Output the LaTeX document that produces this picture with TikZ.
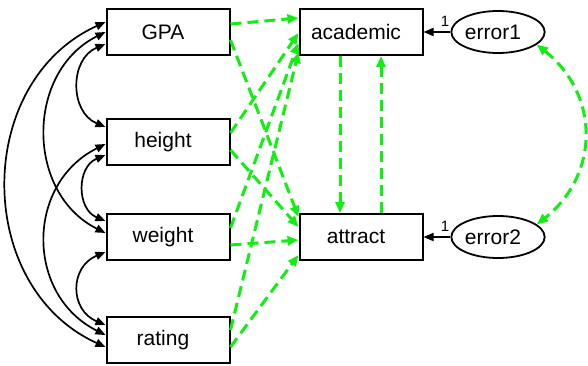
\documentclass[tikz,border=0pt]{standalone}
\usepackage{fontspec}
\setmainfont{Liberation Sans}
\usetikzlibrary{arrows.meta,shapes.geometric}
\definecolor{pathgreen}{HTML}{11EE11}
\tikzset{
  var/.style={draw,line width=2pt,minimum width=123pt,minimum height=46pt,inner sep=0pt,
    execute at end node={\hspace*{10pt}}},
  err/.style={draw,ellipse,line width=1.8pt,minimum width=82pt,minimum height=42pt,inner sep=0pt,
    execute at end node={\hspace*{10pt}}},
  cov/.style={line width=1.7pt,{Triangle[length=10pt,width=8pt]}-{Triangle[length=10pt,width=8pt]}},
  regpath/.style={pathgreen,line width=3pt,dash pattern=on 11pt off 6pt,-{Triangle[length=11pt,width=9pt]}},
  fixpath/.style={line width=1.8pt,-{Triangle[length=10pt,width=8pt]}},
  fixlabel/.style={font=\fontsize{15pt}{17pt}\selectfont,inner sep=0pt,above=5pt}
}

\begin{document}
\begin{tikzpicture}[x=1pt,y=1pt,font=\fontsize{21pt}{25pt}\selectfont]
        \useasboundingbox (0,0) rectangle (588,365);
        \node[var] (gpa) at (168,333) {GPA};
        \node[var] (height) at (168,223) {height};
        \node[var] (weight) at (168,128) {weight};
        \node[var] (rating) at (168,25) {rating};
        \node[var] (academic) at (361,333) {academic};
        \node[var] (attract) at (361,128) {attract};
        \node[err] (error1) at (498,333) {error1};
        \node[err] (error2) at (498,128) {error2};
        \draw[cov] ([yshift=-12pt]gpa.west) .. controls +(-36,-15) and +(-36,15) .. ([yshift=15pt]height.west);
        \draw[cov] ([yshift=0pt]gpa.west) .. controls +(-80,-40) and +(-80,40) .. ([yshift=4pt]weight.west);
        \draw[cov] ([yshift=10pt]gpa.west) .. controls +(-132,-60) and +(-132,60) .. ([yshift=-7pt]rating.west);
        \draw[cov] ([yshift=-13pt]height.west) .. controls +(-29,-12) and +(-29,12) .. ([yshift=16pt]weight.west);
        \draw[cov] ([yshift=-2pt]height.west) .. controls +(-80,-40) and +(-80,40) .. ([yshift=5pt]rating.west);
        \draw[cov] ([yshift=-15pt]weight.west) .. controls +(-36,-15) and +(-36,15) .. ([yshift=15pt]rating.west);
        \draw[regpath] ([yshift=8pt]gpa.east) -- ([yshift=14pt]academic.west);
        \draw[regpath] ([yshift=-8pt]gpa.east) -- ([yshift=20pt]attract.west);
        \draw[regpath] ([yshift=9pt]height.east) -- ([yshift=-1pt]academic.west);
        \draw[regpath] ([yshift=-8pt]height.east) -- ([yshift=10pt]attract.west);
        \draw[regpath] ([yshift=9pt]weight.east) -- ([yshift=-11pt]academic.west);
        \draw[regpath] ([yshift=-8pt]weight.east) -- ([yshift=-3pt]attract.west);
        \draw[regpath] ([yshift=10pt]rating.east) -- ([yshift=-20pt]academic.west);
        \draw[regpath] ([yshift=-7pt]rating.east) -- ([yshift=-18pt]attract.west);
        \draw[regpath] ([xshift=-21pt]academic.south) -- ([xshift=-21pt]attract.north);
        \draw[regpath] ([xshift=20pt]attract.north) -- ([xshift=20pt]academic.south);
        \draw[fixpath] (error1) -- node[pos=0.2,fixlabel] {1} (academic);
        \draw[fixpath] (error2) -- node[pos=0.2,fixlabel] {1} (attract);
        \draw[regpath,{Triangle[length=11pt,width=9pt]}-{Triangle[length=11pt,width=9pt]}] (error1.-18) .. controls +(63,-50) and +(63,50) .. (error2.18);
      \end{tikzpicture}
\end{document}
